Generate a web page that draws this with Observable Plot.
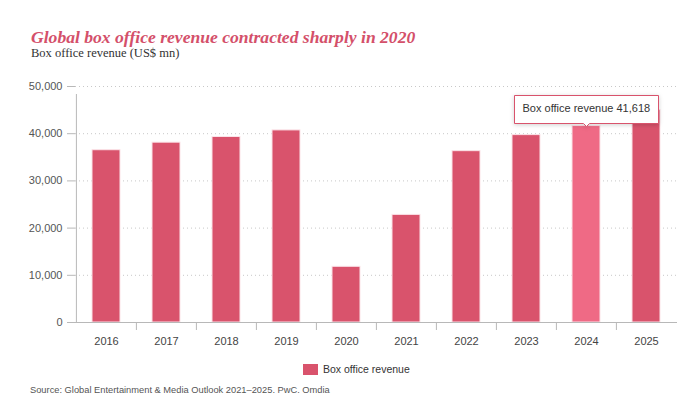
<!DOCTYPE html>
<html>
<head>
<meta charset="utf-8">
<script src="https://cdn.jsdelivr.net/npm/d3@7"></script>
<script src="https://cdn.jsdelivr.net/npm/@observablehq/plot@0.6"></script>
<style>
  html, body { margin: 0; padding: 0; background: #fff; }
  #wrap { position: relative; width: 677px; height: 408px; overflow: hidden; font-family: "Liberation Sans", Arial, sans-serif; }
  #title { position: absolute; left: 31px; top: 27px; font-family: "Liberation Serif", Georgia, serif; font-style: italic; font-weight: bold; font-size: 17.6px; color: #d4506a; white-space: nowrap; }
  #subtitle { position: absolute; left: 31px; top: 46px; font-family: "Liberation Serif", Georgia, serif; font-size: 12.5px; color: #333; white-space: nowrap; }
  #chart { position: absolute; left: 0; top: 70px; }
  #legend { position: absolute; left: 303px; top: 363px; font-size: 10.5px; color: #333; display: flex; align-items: center; white-space: nowrap; }
  #legend .sw { width: 15px; height: 11px; background: #d9536c; margin-right: 5px; }
  #source { position: absolute; left: 30px; top: 385px; font-size: 9.3px; color: #555; white-space: nowrap; }
</style>
</head>
<body>
<div id="wrap">
  <div id="title">Global box office revenue contracted sharply in 2020</div>
  <div id="subtitle">Box office revenue (US$ mn)</div>
  <div id="chart"></div>
  <div id="legend"><div class="sw"></div><span>Box office revenue</span></div>
  <div id="source">Source: Global Entertainment &amp; Media Outlook 2021–2025. PwC. Omdia</div>
</div>
<script>
const years = ["2016","2017","2018","2019","2020","2021","2022","2023","2024","2025"];
const revenue = [36500, 38100, 39300, 40700, 11800, 22800, 36300, 39700, 41618, 45000];
const yTicks = [0, 10000, 20000, 30000, 40000, 50000];
const seriesName = "Box office revenue";
const highlightYear = "2024";

const data = years.map((year, i) => ({year, value: revenue[i]}));
const W = 677, H = 285, mL = 75, mR = 0;
const step = (W - mL - mR) / years.length;
const fmt = d3.format(",");

const chart = Plot.plot({
  width: W,
  height: H,
  marginLeft: mL,
  marginRight: mR,
  marginTop: 16,
  marginBottom: 33,
  style: {fontFamily: "'Liberation Sans', Arial, sans-serif", fontSize: "11px", color: "#333", background: "transparent", overflow: "visible"},
  x: {domain: years, paddingInner: 0.535, paddingOuter: 0.2675, label: null},
  y: {domain: [0, 50000], label: null},
  marks: [
    Plot.gridY(yTicks.filter(d => d > 0), {stroke: "#c8c8c8", strokeOpacity: 1, strokeDasharray: "1,3"}),
    Plot.barY(data, {
      x: "year", y: "value",
      fill: d => d.year === highlightYear ? "#ef6a85" : "#d9536c",
      stroke: "#fbe3e8", strokeWidth: 1
    }),
    Plot.ruleY([0], {stroke: "#b8b8b8"}),
    Plot.ruleX([years[0]], {x: d => d, dx: -step / 2, y1: 0, y2: 50000, insetBottom: -8, stroke: "#b8b8b8"}),
    Plot.ruleX(years.slice(1), {x: d => d, dx: -step / 2, y1: 0, y2: 0, insetBottom: -8, stroke: "#b8b8b8"}),
    Plot.axisY({ticks: yTicks, tickSize: 8, tickPadding: 5, tickFormat: fmt, stroke: "#b8b8b8", fill: "#555", fontSize: 11, label: null}),
    Plot.axisX({tickSize: 0, tickPadding: 15, fill: "#444", fontSize: 11, label: null}),
    Plot.tip(data.filter(d => d.year === highlightYear), {
      x: "year", y: "value",
      title: d => `${seriesName} ${fmt(d.value)}`,
      anchor: "bottom", pointerSize: 6,
      fill: "white", stroke: "#d9536c",
      fontSize: 11, textPadding: 8,
      pathFilter: "drop-shadow(0 1px 2px rgba(0,0,0,0.18))"
    })
  ]
});
chart.style.color = "#333";
document.getElementById("chart").appendChild(chart);
</script>
</body>
</html>
